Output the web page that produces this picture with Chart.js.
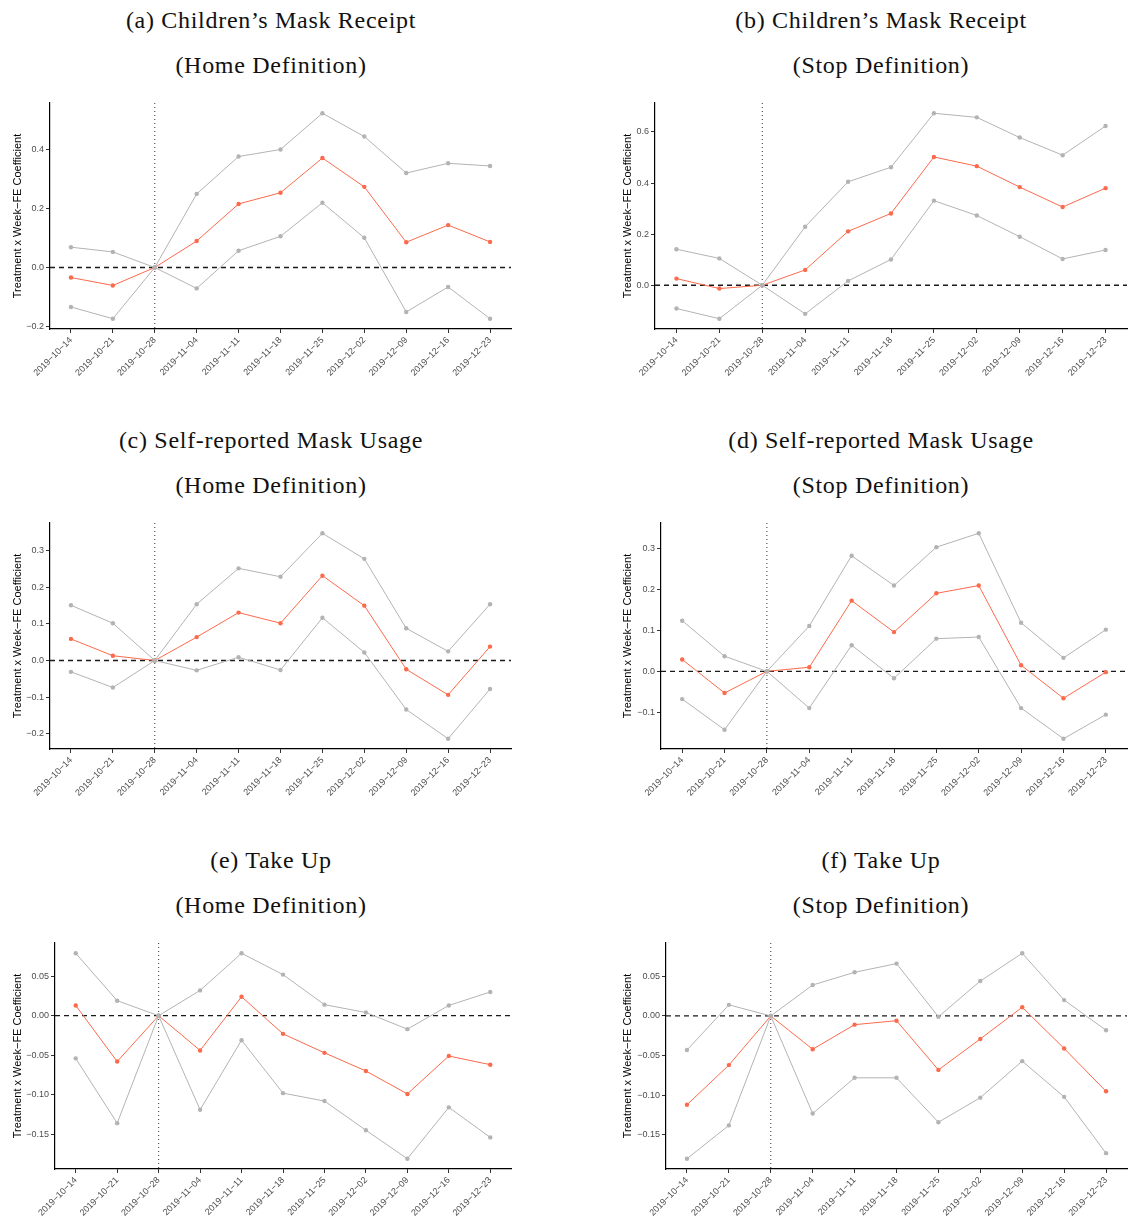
<!DOCTYPE html>
<html>
<head>
<meta charset="utf-8">
<script src="https://cdn.jsdelivr.net/npm/chart.js@4.4.1/dist/chart.umd.min.js"></script>
<style>
  html, body { margin: 0; padding: 0; background: #fff; }
  body { position: relative; width: 1135px; height: 1220px; overflow: hidden; }
  canvas { position: absolute; }
  .ttl {
    position: absolute; width: 540px; text-align: center;
    font-family: "Liberation Serif", serif; font-size: 24px; letter-spacing: 0.7px;
    line-height: 45px; color: #111;
  }
</style>
</head>
<body>
<script>
// semaines (axe X)
const weeks = ["2019-10-14", "2019-10-21", "2019-10-28", "2019-11-04", "2019-11-11", "2019-11-18",
  "2019-11-25", "2019-12-02", "2019-12-09", "2019-12-16", "2019-12-23"];
const eventWeek = "2019-10-28";

// (a) Children's Mask Receipt - Home
const aEst = [-0.034, -0.061, 0, 0.090, 0.216, 0.254, 0.372, 0.274, 0.086, 0.144, 0.087];
const aHi = [0.069, 0.053, 0, 0.250, 0.377, 0.401, 0.524, 0.445, 0.321, 0.354, 0.345];
const aLo = [-0.134, -0.174, 0, -0.071, 0.057, 0.106, 0.220, 0.101, -0.151, -0.066, -0.174];
const aTicks = [-0.2, 0, 0.2, 0.4];

// (b) Children's Mask Receipt - Stop
const bEst = [0.026, -0.013, 0, 0.060, 0.211, 0.281, 0.502, 0.466, 0.384, 0.306, 0.380];
const bHi = [0.141, 0.105, 0, 0.229, 0.405, 0.462, 0.673, 0.657, 0.578, 0.509, 0.623];
const bLo = [-0.091, -0.131, 0, -0.112, 0.017, 0.101, 0.331, 0.273, 0.190, 0.103, 0.138];
const bTicks = [0, 0.2, 0.4, 0.6];

// (c) Self-reported Mask Usage - Home
const cEst = [0.059, 0.013, 0, 0.064, 0.131, 0.102, 0.232, 0.150, -0.024, -0.094, 0.038];
const cHi = [0.151, 0.102, 0, 0.154, 0.252, 0.229, 0.348, 0.278, 0.088, 0.025, 0.154];
const cLo = [-0.031, -0.074, 0, -0.027, 0.009, -0.026, 0.117, 0.022, -0.134, -0.214, -0.078];
const cTicks = [-0.2, -0.1, 0, 0.1, 0.2, 0.3];

// (d) Self-reported Mask Usage - Stop
const dEst = [0.029, -0.053, 0, 0.010, 0.173, 0.096, 0.191, 0.210, 0.015, -0.066, -0.002];
const dHi = [0.124, 0.037, 0, 0.111, 0.283, 0.210, 0.304, 0.338, 0.119, 0.033, 0.102];
const dLo = [-0.068, -0.143, 0, -0.090, 0.064, -0.017, 0.080, 0.084, -0.090, -0.165, -0.106];
const dTicks = [-0.1, 0, 0.1, 0.2, 0.3];

// (e) Take Up - Home
const eEst = [0.013, -0.058, 0, -0.044, 0.024, -0.023, -0.047, -0.070, -0.099, -0.051, -0.062];
const eHi = [0.079, 0.019, 0, 0.032, 0.079, 0.052, 0.014, 0.004, -0.017, 0.013, 0.030];
const eLo = [-0.054, -0.136, 0, -0.119, -0.031, -0.098, -0.108, -0.145, -0.181, -0.116, -0.154];
const eTicks = [-0.15, -0.10, -0.05, 0, 0.05];

// (f) Take Up - Stop
const fEst = [-0.112, -0.062, 0, -0.042, -0.011, -0.006, -0.068, -0.029, 0.011, -0.041, -0.095];
const fHi = [-0.043, 0.014, 0, 0.039, 0.055, 0.066, -0.001, 0.044, 0.079, 0.020, -0.018];
const fLo = [-0.180, -0.138, 0, -0.123, -0.078, -0.078, -0.134, -0.103, -0.057, -0.102, -0.173];
const fTicks = [-0.15, -0.10, -0.05, 0, 0.05];

const titles = [
  ["(a) Children’s Mask Receipt", "(Home Definition)"],
  ["(b) Children’s Mask Receipt", "(Stop Definition)"],
  ["(c) Self-reported Mask Usage", "(Home Definition)"],
  ["(d) Self-reported Mask Usage", "(Stop Definition)"],
  ["(e) Take Up", "(Home Definition)"],
  ["(f) Take Up", "(Stop Definition)"],
];

// mise en page des panneaux
const panels = [
  { est: aEst, hi: aHi, lo: aLo, ticks: aTicks, dec: 1, cx: 0, axis: 50, right: 511, top: 103, bottom: 329, ty: -2 },
  { est: bEst, hi: bHi, lo: bLo, ticks: bTicks, dec: 1, cx: 610, axis: 655, right: 1127, top: 103, bottom: 329, ty: -2 },
  { est: cEst, hi: cHi, lo: cLo, ticks: cTicks, dec: 1, cx: 0, axis: 50, right: 511, top: 523, bottom: 749, ty: 418 },
  { est: dEst, hi: dHi, lo: dLo, ticks: dTicks, dec: 1, cx: 610, axis: 661, right: 1127, top: 523, bottom: 749, ty: 418 },
  { est: eEst, hi: eHi, lo: eLo, ticks: eTicks, dec: 2, cx: 0, axis: 55, right: 511, top: 943, bottom: 1169, ty: 838 },
  { est: fEst, hi: fHi, lo: fLo, ticks: fTicks, dec: 2, cx: 610, axis: 666, right: 1127, top: 943, bottom: 1169, ty: 838 },
];

const GREY = "#b3b3b3";
const RED = "#fc6a4c";
const minus = (s) => String(s).replace(/-/g, "\u2212");

// lignes de référence : y = 0 (tirets) et semaine de l'événement (pointillés)
const refLines = {
  id: "refLines",
  beforeDatasetsDraw(chart) {
    const { ctx, chartArea: a, scales: { x, y } } = chart;
    const y0 = y.getPixelForValue(0);
    const xe = x.getPixelForValue(weeks.indexOf(eventWeek));
    ctx.save();
    ctx.lineWidth = 1;
    ctx.strokeStyle = "#333";
    ctx.setLineDash([1, 3]);
    ctx.beginPath();
    ctx.moveTo(xe, a.top);
    ctx.lineTo(xe, a.bottom);
    ctx.stroke();
    ctx.lineWidth = 1.3;
    ctx.strokeStyle = "#1a1a1a";
    ctx.setLineDash([5, 4]);
    ctx.beginPath();
    ctx.moveTo(a.left, y0);
    ctx.lineTo(a.right, y0);
    ctx.stroke();
    ctx.restore();
  },
};

function series(data, color) {
  return {
    data: data,
    borderColor: color,
    backgroundColor: color,
    borderWidth: 1,
    pointRadius: 2.2,
    pointBorderWidth: 0,
    pointBackgroundColor: color,
    tension: 0,
  };
}

panels.forEach((p, i) => {
  // titres
  const t = document.createElement("div");
  t.className = "ttl";
  t.style.left = (p.cx === 0 ? 1 : 611) + "px";
  t.style.top = p.ty + "px";
  t.innerHTML = titles[i][0] + "<br>" + titles[i][1];
  document.body.appendChild(t);

  const canvasTop = p.top - 8;
  const w = p.right + 8 - p.cx;
  const h = p.bottom + 70 - canvasTop;
  const canvas = document.createElement("canvas");
  canvas.width = w;
  canvas.height = h;
  canvas.style.left = p.cx + "px";
  canvas.style.top = canvasTop + "px";
  document.body.appendChild(canvas);

  // étendue de l'axe Y façon ggplot (5 %)
  const all = p.hi.concat(p.lo, p.est);
  const lo = Math.min(...all), hi = Math.max(...all);
  const pad = (hi - lo) * 0.05;

  new Chart(canvas.getContext("2d"), {
    type: "line",
    data: {
      labels: weeks,
      datasets: [series(p.hi, GREY), series(p.lo, GREY), series(p.est, RED)],
    },
    plugins: [refLines],
    options: {
      responsive: false,
      animation: false,
      devicePixelRatio: 1,
      layout: { padding: { top: 8, right: 8, left: 0, bottom: 0 } },
      plugins: { legend: { display: false }, tooltip: { enabled: false } },
      scales: {
        x: {
          type: "category",
          offset: true,
          grid: { offset: false, drawOnChartArea: false, drawTicks: true, tickLength: 4, color: "#333" },
          border: { display: true, color: "#000", width: 1.2 },
          ticks: {
            autoSkip: false,
            maxRotation: 45,
            minRotation: 45,
            padding: 2,
            color: "#4d4d4d",
            font: { family: "Liberation Sans", size: 9 },
            callback: (v, idx) => minus(weeks[idx]),
          },
          afterFit: (s) => {
            s.height = 70;
            s.paddingLeft = 0;
            s.paddingRight = 0;
          },
        },
        y: {
          min: lo - pad,
          max: hi + pad,
          grid: { drawOnChartArea: false, drawTicks: true, tickLength: 4, color: "#333" },
          border: { display: true, color: "#000", width: 1.2 },
          afterBuildTicks: (s) => {
            s.ticks = p.ticks.map((v) => ({ value: v }));
          },
          ticks: {
            padding: 2,
            color: "#4d4d4d",
            font: { family: "Liberation Sans", size: 9 },
            callback: (v) => minus(Number(v).toFixed(p.dec)),
          },
          title: {
            display: true,
            text: "Treatment x Week\u2212FE Coefficient",
            color: "#000",
            font: { family: "Liberation Sans", size: 11 },
            padding: { top: 11, bottom: 0 },
          },
          afterFit: (s) => {
            s.width = p.axis - p.cx;
            s.paddingTop = 0;
            s.paddingBottom = 0;
          },
        },
      },
    },
  });
});
</script>
</body>
</html>
